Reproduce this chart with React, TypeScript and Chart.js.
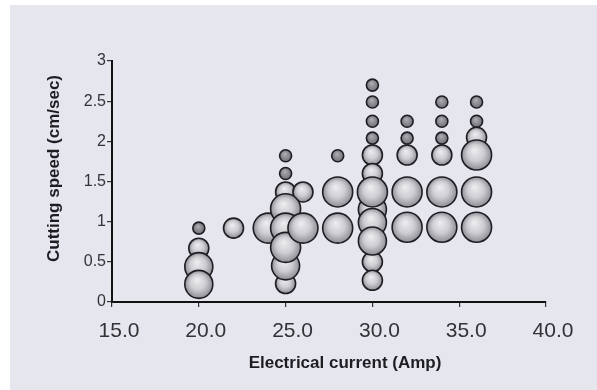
import React, { useEffect, useRef } from "react";
import { Chart, registerables } from "chart.js";

Chart.register(...registerables);

// Electrical current (Amp) for each column of bubbles
const currents = [20, 22, 24, 25, 26, 28, 30, 32, 34, 36];

// Cutting speed (cm/sec) values in each column
const speedColumns = [
  [0.92, 0.67, 0.44, 0.22],
  [0.92],
  [0.92],
  [1.82, 1.6, 1.37, 1.16, 0.92, 0.68, 0.45, 0.23],
  [1.37, 0.92],
  [1.82, 1.37, 0.92],
  [2.7, 2.49, 2.25, 2.04, 1.83, 1.6, 1.37, 1.15, 0.99, 0.76, 0.5, 0.27],
  [2.25, 2.04, 1.83, 1.37, 0.93],
  [2.49, 2.25, 2.04, 1.83, 1.37, 0.93],
  [2.49, 2.25, 2.05, 1.83, 1.37, 0.93],
];

// Bubble magnitude level (1 = smallest ... 4 = largest) for each value above
const sizeLevels = [
  [1, 2, 3, 3],
  [2],
  [4],
  [1, 1, 2, 4, 4, 4, 3, 2],
  [2, 4],
  [1, 4, 4],
  [1, 1, 1, 1, 2, 2, 4, 3, 3, 3, 2, 2],
  [1, 1, 2, 4, 4],
  [1, 1, 1, 2, 4, 4],
  [1, 1, 2, 4, 4, 4],
];

const xTicks = [15, 20, 25, 30, 35, 40];
const yTicks = [0, 0.5, 1, 1.5, 2, 2.5, 3];

const xTitle = "Electrical current (Amp)";
const yTitle = "Cutting speed (cm/sec)";

const RADIUS_BY_LEVEL = [0, 6, 10, 14, 15];

const FONT = "'Liberation Sans', Arial, Helvetica, sans-serif";

export default function App() {
  const ref = useRef<HTMLCanvasElement>(null);

  useEffect(() => {
    if (!ref.current) return;
    const points: { x: number; y: number; r: number; level: number }[] = [];
    currents.forEach((c, i) => {
      speedColumns[i].forEach((s, j) => {
        const level = sizeLevels[i][j];
        points.push({ x: c, y: s, r: RADIUS_BY_LEVEL[level], level });
      });
    });
    points.sort((a, b) => a.level - b.level);

    const fill = (ctx: any) => {
      const chart = ctx.chart;
      const raw = ctx.raw;
      if (!raw || !chart.scales || !chart.scales.x || !chart.scales.y) return "#bbbbbf";
      const px = chart.scales.x.getPixelForValue(raw.x);
      const py = chart.scales.y.getPixelForValue(raw.y);
      const r = raw.r;
      if (!isFinite(px) || !isFinite(py) || !isFinite(r) || r <= 0) return "#bbbbbf";
      const g = chart.ctx.createRadialGradient(px - r * 0.15, py - r * 0.35, 0, px, py, r);
      if (r <= 7) {
        g.addColorStop(0, "#b0b0b6");
        g.addColorStop(1, "#707076");
      } else {
        g.addColorStop(0, "#efeff2");
        g.addColorStop(0.55, "#cdcdd2");
        g.addColorStop(1, "#8e8e95");
      }
      return g;
    };

    const bgPlugin = {
      id: "scanBg",
      beforeDraw(chart: any) {
        const c = chart.ctx;
        c.save();
        c.fillStyle = "#ffffff";
        c.fillRect(0, 0, chart.width, chart.height);
        c.fillStyle = "#e5e6ee";
        c.fillRect(10, 5, chart.width - 10, chart.height - 5);
        c.restore();
      },
    };

    const titlePlugin = {
      id: "axisTitles",
      afterDraw(chart: any) {
        const c = chart.ctx;
        const area = chart.chartArea;
        c.save();
        c.fillStyle = "#1e1e22";
        c.font = `bold 17px ${FONT}`;
        c.textAlign = "center";
        c.textBaseline = "middle";
        c.fillText(xTitle, (area.left + area.right) / 2 + 16, 363);
        c.translate(54, (area.top + area.bottom) / 2 - 13);
        c.rotate(-Math.PI / 2);
        c.fillText(yTitle, 0, 0);
        c.restore();
      },
    };

    const chart = new Chart(ref.current, {
      type: "bubble",
      data: {
        datasets: [
          {
            data: points,
            backgroundColor: fill,
            borderColor: "#1e1e22",
            borderWidth: 1.6,
          } as any,
        ],
      },
      options: {
        responsive: false,
        animation: false,
        events: [],
        layout: { padding: { top: 61, right: 51, bottom: 0, left: 0 } },
        plugins: {
          legend: { display: false },
          tooltip: { enabled: false },
        },
        scales: {
          x: {
            type: "linear",
            min: 15,
            max: 40,
            afterBuildTicks: (scale: any) => {
              scale.ticks = xTicks.map((v) => ({ value: v }));
            },
            afterFit: (scale: any) => {
              scale.height = 88;
            },
            ticks: {
              callback: (v: any) => Number(v).toFixed(1),
              font: { family: FONT, size: 21 },
              color: "#333336",
              padding: 12,
              labelOffset: 7,
            },
            grid: {
              drawOnChartArea: false,
              drawTicks: true,
              tickLength: 5,
              color: "#333",
              lineWidth: 1.2,
            },
            border: { display: true, color: "#111", width: 2 },
          },
          y: {
            type: "linear",
            min: 0,
            max: 3,
            afterBuildTicks: (scale: any) => {
              scale.ticks = yTicks.map((v) => ({ value: v }));
            },
            afterFit: (scale: any) => {
              scale.width = 112;
            },
            ticks: {
              callback: (v: any) => String(v),
              font: { family: FONT, size: 16 },
              color: "#333336",
              padding: 1,
            },
            grid: {
              drawOnChartArea: false,
              drawTicks: true,
              tickLength: 5,
              color: "#333",
              lineWidth: 1.2,
            },
            border: { display: true, color: "#111", width: 2 },
          },
        },
      },
      plugins: [bgPlugin, titlePlugin],
    });

    return () => chart.destroy();
  }, []);

  return (
    <div style={{ position: "fixed", left: 0, top: 0, width: 597, height: 390 }}>
      <canvas ref={ref} width={597} height={390} />
    </div>
  );
}
